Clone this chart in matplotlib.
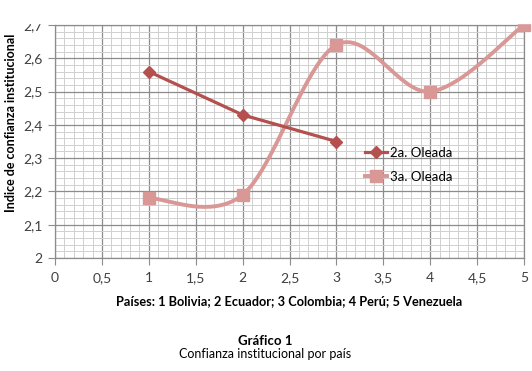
import numpy as np
import matplotlib
matplotlib.use("Agg")
import matplotlib.pyplot as plt
from matplotlib.ticker import MultipleLocator, FuncFormatter
from matplotlib.patches import Rectangle

plt.rcParams['font.family'] = ['Lato', 'DejaVu Sans']

# data
paises_2a = [1, 2, 3]
oleada_2a = [2.56, 2.43, 2.35]
paises_3a = [1, 2, 3, 4, 5]
oleada_3a = [2.18, 2.19, 2.64, 2.50, 2.70]

c_2a = "#b4504e"
c_3a = "#d99795"


def smooth(xs, ys, n=40):
    # Excel-style smoothed line: cubic Bezier with Catmull-Rom control points
    p = np.column_stack([xs, ys]).astype(float)
    out = [p[0]]
    t = np.linspace(0, 1, n)[1:, None]
    for i in range(len(p) - 1):
        p0 = p[max(i - 1, 0)]
        p1, p2 = p[i], p[i + 1]
        p3 = p[min(i + 2, len(p) - 1)]
        c1 = p1 + (p2 - p0) / 6
        c2 = p2 - (p3 - p1) / 6
        seg = ((1 - t) ** 3) * p1 + 3 * ((1 - t) ** 2) * t * c1 \
            + 3 * (1 - t) * t ** 2 * c2 + t ** 3 * p2
        out.extend(seg)
    out = np.array(out)
    return out[:, 0], out[:, 1]


fig = plt.figure(figsize=(5.32, 3.71), dpi=100)
ax = fig.add_axes([55 / 532, 1 - 258 / 371, 469 / 532, 233 / 371])

ax.set_xlim(0, 5)
ax.set_ylim(2, 2.7)
ax.xaxis.set_major_locator(MultipleLocator(0.5))
ax.xaxis.set_minor_locator(MultipleLocator(0.1))
ax.yaxis.set_major_locator(MultipleLocator(0.1))
ax.yaxis.set_minor_locator(MultipleLocator(0.02))
fmt = FuncFormatter(lambda v, _: f"{v:g}".replace(".", ","))
ax.xaxis.set_major_formatter(fmt)
ax.yaxis.set_major_formatter(fmt)

ax.grid(which="major", color="#8c8c8c", linewidth=0.9)
ax.grid(which="minor", color="#d0d0d0", linewidth=0.7)
ax.set_axisbelow(True)
for s in ax.spines.values():
    s.set_color("#8c8c8c")
    s.set_linewidth(0.9)
ax.tick_params(which="major", length=5, color="#8c8c8c", labelsize=10,
               labelcolor="#404040", pad=4)
ax.tick_params(which="minor", length=0)
ax.tick_params(axis="x", pad=5)

ax.plot(paises_2a, oleada_2a, color=c_2a, lw=2.3, marker="D", ms=6,
        label="2a. Oleada", zorder=4)
sx, sy = smooth(paises_3a, oleada_3a)
ax.plot(sx, sy, color=c_3a, lw=2.8, zorder=3)
ax.plot(paises_3a, oleada_3a, color=c_3a, lw=0, marker="s", ms=9,
        zorder=3, clip_on=False)
ax.plot([], [], color=c_3a, lw=2.8, marker="s", ms=9, label="3a. Oleada")

leg = ax.legend(loc="center left", bbox_to_anchor=(0.635, 0.40), frameon=False,
                fontsize=9.5, handlelength=1.7, handletextpad=0.2,
                labelspacing=0.9)

ax.set_ylabel("Indice de confianza institucional", fontsize=9,
              fontweight="bold")
ax.yaxis.set_label_coords(-0.081, 0.58)
ax.set_xlabel("Países: 1 Bolivia; 2 Ecuador; 3 Colombia; 4 Perú; 5 Venezuela",
              fontsize=9.2, fontweight="bold", labelpad=8)

fig.text(265 / 532, 1 - 341 / 371, "Gráfico 1", ha="center", va="center",
         fontsize=9.5, fontweight="bold")
fig.text(265 / 532, 1 - 354 / 371, "Confianza institucional por país",
         ha="center", va="center", fontsize=9)

# the original image is cropped just above the plot
fig.patches.append(Rectangle((0, 1 - 23 / 371), 1, 23 / 371,
                             transform=fig.transFigure, color="white",
                             zorder=10))

fig.savefig("out.png", dpi=100)
